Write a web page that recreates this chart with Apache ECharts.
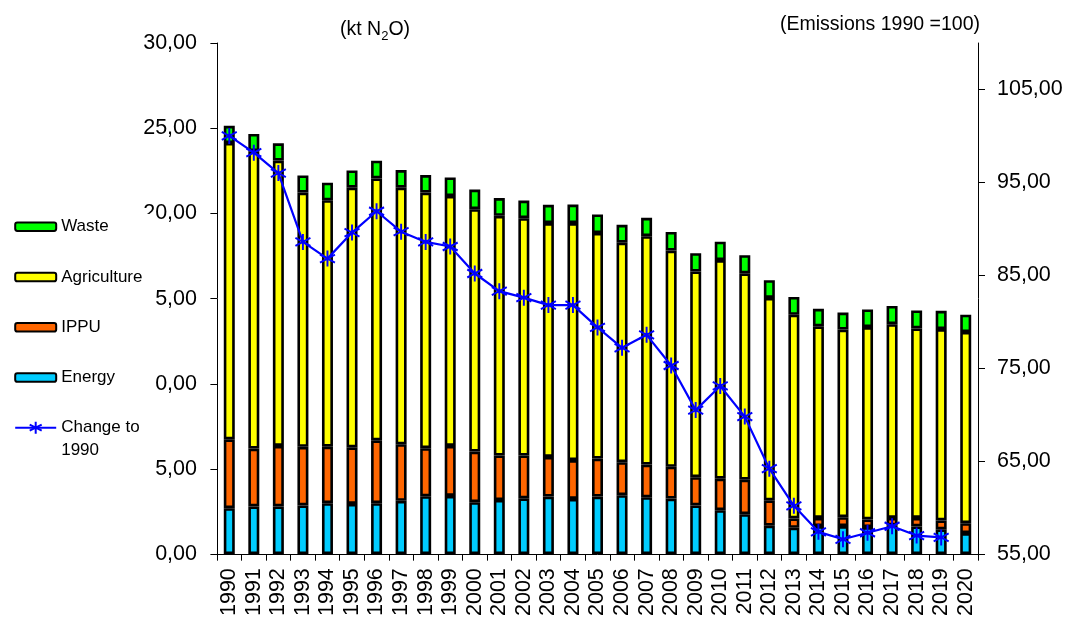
<!DOCTYPE html>
<html>
<head>
<meta charset="utf-8">
<script src="https://cdn.jsdelivr.net/npm/echarts@6/dist/echarts.min.js"></script>
<style>
  html, body { margin: 0; padding: 0; background: #fff; }
  #chart { width: 1067px; height: 619px; }
</style>
</head>
<body>
<div id="chart"></div>
<script>
// N2O emissions by sector (kt N2O) and index relative to 1990 (=100)
const years = ['1990','1991','1992','1993','1994','1995','1996','1997','1998','1999',
  '2000','2001','2002','2003','2004','2005','2006','2007','2008','2009',
  '2010','2011','2012','2013','2014','2015','2016','2017','2018','2019','2020'];

const energy = [2.70, 2.80, 2.80, 2.86, 2.99, 2.95, 2.99, 3.13, 3.40, 3.42,
  3.05, 3.18, 3.28, 3.38, 3.24, 3.38, 3.46, 3.34, 3.26, 2.86,
  2.58, 2.35, 1.67, 1.55, 1.65, 1.65, 1.59, 1.69, 1.63, 1.46, 1.24];

const ippu = [4.04, 3.40, 3.55, 3.44, 3.32, 3.32, 3.69, 3.32, 2.82, 2.93,
  2.97, 2.61, 2.51, 2.33, 2.28, 2.23, 1.94, 1.92, 1.87, 1.66,
  1.85, 2.02, 1.49, 0.55, 0.48, 0.52, 0.45, 0.44, 0.50, 0.52, 0.58];

const agriculture = [17.39, 17.45, 16.75, 14.92, 14.46, 15.24, 15.37, 15.06, 15.00, 14.67,
  14.23, 14.07, 13.93, 13.72, 13.91, 13.24, 12.88, 13.40, 12.69, 12.07,
  12.83, 12.11, 11.88, 11.95, 11.24, 11.01, 11.29, 11.37, 11.12, 11.23, 11.22];

const waste = [1.01, 1.01, 1.01, 1.01, 1.03, 1.01, 1.04, 1.03, 1.03, 1.09,
  1.15, 1.04, 1.03, 1.07, 1.09, 1.09, 1.05, 1.08, 1.09, 1.07,
  1.08, 1.07, 1.04, 1.05, 1.03, 1.00, 1.03, 1.07, 1.05, 1.07, 1.01];

const changeTo1990 = [100.0, 98.2, 96.0, 88.6, 86.8, 89.6, 91.9, 89.7, 88.6, 88.1,
  85.2, 83.3, 82.6, 81.8, 81.8, 79.4, 77.2, 78.6, 75.3, 70.5,
  73.1, 69.8, 64.2, 60.2, 57.4, 56.6, 57.3, 58.0, 57.0, 56.8, null];

const leftTicks = { min: 0, max: 30, interval: 5 };
const rightTickValues = [55, 65, 75, 85, 95, 105];
const rightRange = { min: 55, max: 110 };

const FONT = '"Liberation Sans", Arial, sans-serif';
const fmt = v => v.toFixed(2).replace('.', ',');
// six-armed asterisk marker
const asterisk = 'path://M0,-1 L0,1 M-0.87,-0.5 L0.87,0.5 M-0.87,0.5 L0.87,-0.5';

function barSeries(name, data, color) {
  return {
    name, type: 'bar', stack: 'total', data, barWidth: 11,
    itemStyle: { color, borderColor: '#000', borderWidth: 2.6 }
  };
}

const chart = echarts.init(document.getElementById('chart'), null, { renderer: 'canvas' });

chart.setOption({
  animation: false,
  backgroundColor: '#fff',
  textStyle: { fontFamily: FONT, color: '#000' },
  title: [
    {
      text: '(kt N{sub|2}O)', left: 340, top: 17, padding: 0,
      textStyle: {
        fontFamily: FONT, fontSize: 19.5, fontWeight: 'normal', color: '#000', lineHeight: 26,
        rich: { sub: { fontFamily: FONT, fontSize: 13, color: '#000', lineHeight: 26, verticalAlign: 'bottom' } }
      }
    },
    {
      text: '(Emissions 1990 =100)', left: 780, top: 13.5, padding: 0,
      textStyle: { fontFamily: FONT, fontSize: 19.5, fontWeight: 'normal', color: '#000', lineHeight: 22 }
    }
  ],
  legend: [
    {
      orient: 'vertical', left: 0, top: 214,
      padding: [1.2, 12.6, 3.8, 14.2],
      itemGap: 27.3, itemWidth: 41, itemHeight: 8.5,
      backgroundColor: '#fff', selectedMode: false,
      data: ['Waste', 'Agriculture', 'IPPU', 'Energy'],
      itemStyle: { borderWidth: 2 },
      textStyle: { fontFamily: FONT, fontSize: 17, lineHeight: 23, color: '#000' }
    },
    {
      orient: 'vertical', left: 0, top: 392.9,
      padding: [1.05, 15.4, 3, 14.2],
      itemWidth: 41, itemHeight: 15,
      backgroundColor: '#fff', selectedMode: false,
      data: ['Change to 1990'],
      // blank first line keeps "Change to" level with the icon
      formatter: n => n === 'Change to 1990' ? '\nChange to\n1990' : n,
      textStyle: { fontFamily: FONT, fontSize: 17, lineHeight: 22.5, color: '#000' }
    }
  ],
  grid: { left: 217, top: 43, width: 761, height: 514.5, containLabel: false },
  xAxis: {
    type: 'category', data: years, boundaryGap: true,
    axisLine: { show: true, lineStyle: { color: '#000', width: 1 } },
    axisTick: { show: true, length: 6.5, lineStyle: { color: '#000' } },
    axisLabel: { rotate: 90, interval: 0, margin: 14, fontSize: 21.5, color: '#000', fontFamily: FONT },
    splitLine: { show: false }
  },
  yAxis: [
    {
      type: 'value', position: 'left',
      min: leftTicks.min, max: leftTicks.max, interval: leftTicks.interval,
      axisLine: { show: true, lineStyle: { color: '#000', width: 1 } },
      axisTick: { show: true, length: 6.6, lineStyle: { color: '#000' } },
      axisLabel: { margin: 20, fontSize: 21.5, color: '#000', fontFamily: FONT, formatter: fmt },
      splitLine: { show: false }
    },
    {
      type: 'value', position: 'right',
      min: rightRange.min, max: rightRange.max,
      axisLine: { show: true, lineStyle: { color: '#000', width: 1 } },
      axisTick: { show: true, length: 7, customValues: rightTickValues, lineStyle: { color: '#000' } },
      axisLabel: { margin: 19, fontSize: 21.5, color: '#000', fontFamily: FONT, formatter: fmt, customValues: rightTickValues },
      splitLine: { show: false }
    }
  ],
  series: [
    barSeries('Energy', energy, '#00ccff'),
    barSeries('IPPU', ippu, '#ff6600'),
    barSeries('Agriculture', agriculture, '#ffff00'),
    barSeries('Waste', waste, '#00ff00'),
    {
      name: 'Change to 1990', type: 'line', yAxisIndex: 1, data: changeTo1990,
      symbol: asterisk, symbolSize: [15, 16], showAllSymbol: true,
      lineStyle: { color: '#0000ff', width: 2.2 },
      itemStyle: { color: '#0000ff', borderColor: '#0000ff', borderWidth: 2 },
      z: 5
    }
  ]
});
</script>
</body>
</html>
